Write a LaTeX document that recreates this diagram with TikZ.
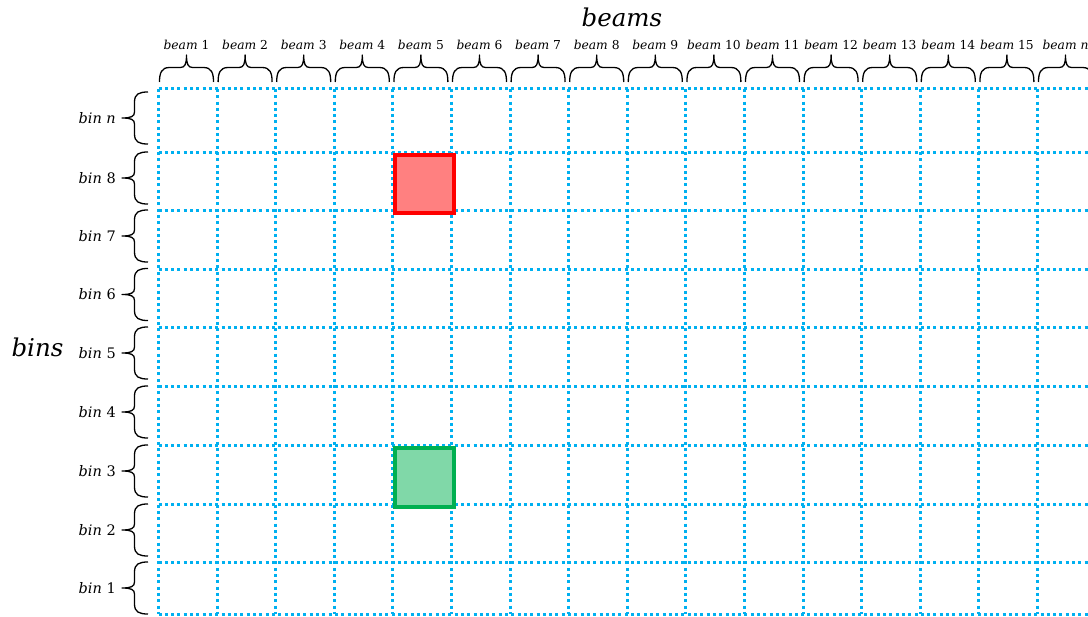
\documentclass[tikz,border=0pt]{standalone}
\usepackage{fontspec}
\setmainfont{DejaVu Serif}
\definecolor{gridblue}{HTML}{00B0F0}
\definecolor{hotred}{HTML}{FF0000}
\definecolor{redfill}{HTML}{FF8080}
\definecolor{okgreen}{HTML}{00B050}
\definecolor{greenfill}{HTML}{80D8A8}
\begin{document}
\begin{tikzpicture}[x=1pt,y=-1pt,
  gridline/.style={gridblue,line width=3pt,dash pattern=on 3pt off 3.3pt},
  bracepath/.style={line width=1.3pt,line join=round},
  beamlabel/.style={font=\fontsize{12.3}{14}\selectfont,inner sep=0pt,anchor=base},
  binlabel/.style={font=\fontsize{14.5}{16}\selectfont,inner sep=0pt,anchor=base east},
  titlelabel/.style={inner sep=0pt,anchor=base,font=\fontsize{24.5}{28}\selectfont\itshape},
  cellmark/.style={line width=4pt,minimum width=58.6pt,minimum height=58pt,inner sep=0pt,anchor=north west}]
\useasboundingbox (0,0) rectangle (1088,617);
% grid
\foreach \y [count=\i] in {89,153,211,269.5,328,387,446,505,563,614} {
  \coordinate (hl\i) at (158.5,\y);
  \coordinate (hr\i) at (1088,\y);
  \draw[gridline] (hl\i) -- (hr\i);
}
\foreach \i in {0,...,15} {
  \coordinate (vt\i) at ({158.5+58.6*\i},89);
  \coordinate (vb\i) at ({158.5+58.6*\i},614);
  \draw[gridline] (vt\i) -- (vb\i);
}
% marked cells
\node[cellmark,draw=hotred,fill=redfill] (redcell) at (392.9,153) {};
\node[cellmark,draw=okgreen,fill=greenfill,minimum height=59pt] (greencell) at (392.9,446) {};
% beam braces and labels
\foreach \lab [count=\i from 0] in {1,2,3,4,5,6,7,8,9,10,11,12,13,14,15,\itshape n} {
  \pgfmathsetmacro\xa{158.5+58.6*\i+1}
  \pgfmathsetmacro\xb{\xa+54}
  \pgfmathsetmacro\xm{\xa+27}
  \coordinate (bl\i) at (\xa,82);
  \coordinate (br\i) at (\xb,82);
  \coordinate (bm\i) at (\xm,55);
  \draw[bracepath] (bl\i) .. controls (\xa,73) and (\xa+2,67.5) .. (\xa+10,67.5)
     -- (\xm-6,67.5) .. controls (\xm-1.5,67.5) and (\xm,64) .. (bm\i)
     .. controls (\xm,64) and (\xm+1.5,67.5) .. (\xm+6,67.5)
     -- (\xb-10,67.5) .. controls (\xb-2,67.5) and (\xb,73) .. (br\i);
  \node[beamlabel] (beam\i) at (\xm,50) {\textit{beam} \lab};
}
% bin braces and labels
\foreach \t/\lab [count=\i] in {92/\itshape n,152/8,210/7,268.5/6,327/5,386/4,445/3,504/2,562/1} {
  \pgfmathsetmacro\yb{\t+52}
  \pgfmathsetmacro\ym{\t+26}
  \coordinate (bt\i) at (148,\t);
  \coordinate (bb\i) at (148,\yb);
  \coordinate (bk\i) at (122,\ym);
  \draw[bracepath] (bt\i) .. controls (139,\t) and (134.5,\t+2) .. (134.5,\t+10)
     -- (134.5,\ym-6) .. controls (134.5,\ym-1.5) and (131,\ym) .. (bk\i)
     .. controls (131,\ym) and (134.5,\ym+1.5) .. (134.5,\ym+6)
     -- (134.5,\yb-10) .. controls (134.5,\yb-2) and (139,\yb) .. (bb\i);
  \node[binlabel] (bin\i) at (116,{\t+31.5}) {\textit{bin} \lab};
}
% titles
\node[titlelabel] (beams) at (622,27) {beams};
\node[titlelabel] (bins) at (37.5,357) {bins};
\end{tikzpicture}
\end{document}
